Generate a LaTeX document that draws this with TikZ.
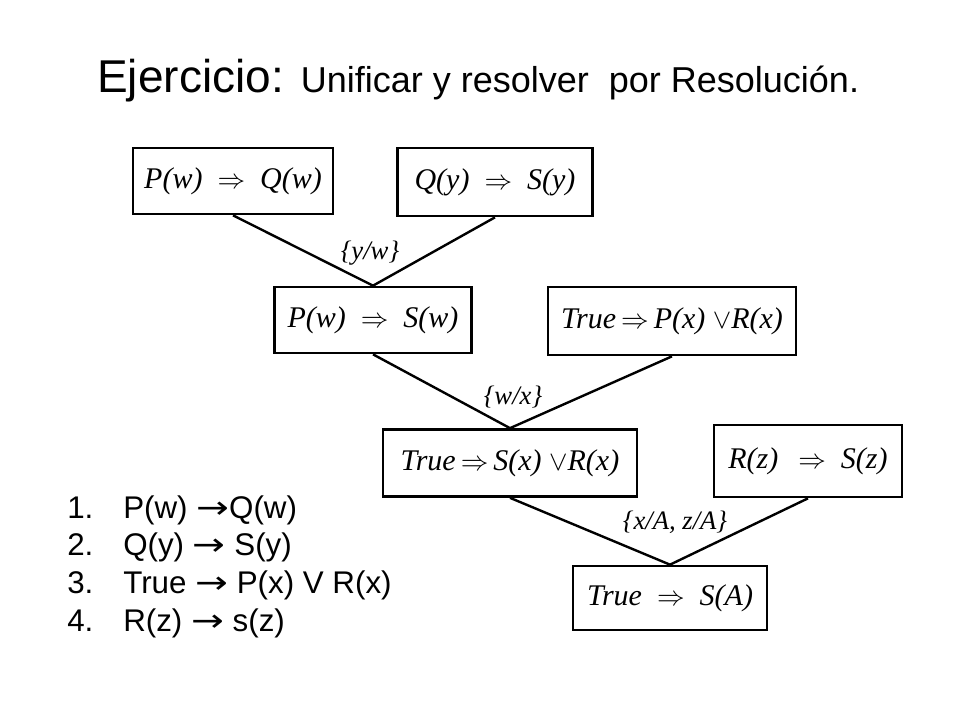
\documentclass[tikz,border=0pt]{standalone}
\usepackage{fontspec}
\setmainfont{Liberation Serif}
\setsansfont{Liberation Sans}
\newfontfamily\arrowfont{DejaVu Sans}
\newcommand{\impl}{{\arrowfont\scalebox{1.25}[1]{→}}}
\begin{document}
\begin{tikzpicture}[x=0.75pt,y=-0.75pt,
		clause/.style={draw,line width=2pt,inner sep=0pt,font=\itshape\fontsize{22.5}{26}\selectfont},
		subst/.style={inner sep=1pt,font=\itshape\fontsize{20}{24}\selectfont},
		item/.style={anchor=base west,inner sep=0pt,font=\sffamily\fontsize{23.5}{28}\selectfont}]
	\useasboundingbox (0,0) rectangle (960,720);
	\node[anchor=base west,inner sep=0pt,font=\sffamily\fontsize{34.5}{40}\selectfont] (title) at (97,93)
		{Ejercicio: {\fontsize{27}{32}\selectfont Unificar y resolver \ por Resoluci\'on.}};
	\foreach \name/\x/\y/\w/\h/\txt in {
				pq/233/181/200/66/{P(w)\enspace$\Rightarrow$\enspace Q(w)},
				qs/495/182/195/68/{Q(y)\enspace$\Rightarrow$\enspace S(y)},
				ps/373/320/197/66/{P(w)\enspace$\Rightarrow$\enspace S(w)},
				tpr/672/321/248/68/{True\,$\Rightarrow$\,P(x) $\vee$R(x)},
				tsr/510/463/254/67/{True\,$\Rightarrow$\,S(x) $\vee$R(x)},
				rs/808/461/188/72/{R(z)\enspace\,$\Rightarrow$\enspace S(z)},
				ts/670/598/194/64/{True\enspace$\Rightarrow$\enspace S(A)}}
		\node[clause, minimum width=0.75*\w pt, minimum height=0.75*\h pt] (\name) at (\x,\y) {\txt};
	\foreach \a/\b in {pq/ps,qs/ps,ps/tsr,tpr/tsr,tsr/ts,rs/ts}
		\draw[line width=1.8pt] (\a.south) -- (\b.north);
	\node[subst] (s1) at (370,253) {\{y/w\}};
	\node[subst] (s2) at (513,397) {\{w/x\}};
	\node[subst] (s3) at (675,522) {\{x/A, z/A\}};
	\foreach \n/\y/\txt in {1/518/{P(w) \impl Q(w)},
							2/555/{Q(y) \impl\ S(y)},
							3/593/{True \impl\ P(x) V R(x)},
							4/631/{R(z) \impl\ s(z)}}
	{
		\node[item] (n\n) at (67,\y) {\n.};
		\node[item] (i\n) at (123,\y) {\txt};
	}
\end{tikzpicture}
\end{document}
